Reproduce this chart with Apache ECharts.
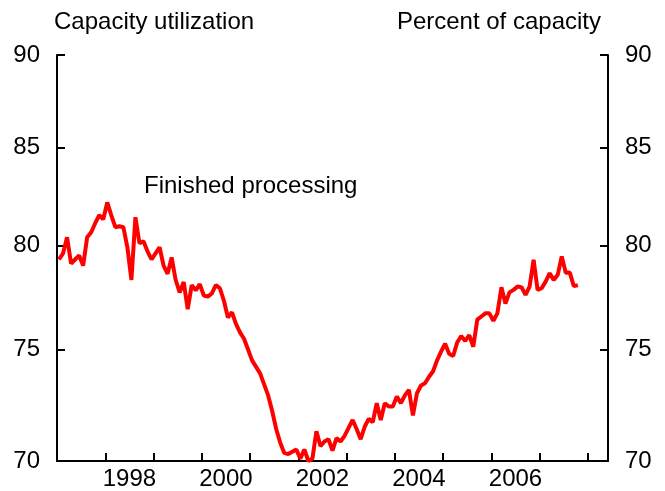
<!DOCTYPE html>
<html>
<head>
<meta charset="utf-8">
<script src="https://cdn.jsdelivr.net/npm/echarts@6/dist/echarts.min.js"></script>
<style>
html,body{margin:0;padding:0;background:#fff;}
#chart{width:665px;height:491px;}
</style>
</head>
<body>
<div id="chart"></div>
<script>
// Monthly series, starting January 1997
const startYear = 1997;
const values = [
  79.3, 79.6, 80.4, 79.1, 79.3, 79.5, 79.0, 80.4, 80.65, 81.1, 81.5, 81.3,
  82.15, 81.5, 80.9, 80.95, 80.9, 79.9, 78.3, 81.4, 80.1, 80.2, 79.7, 79.3,
  79.6, 79.9, 79.0, 78.6, 79.4, 78.3, 77.7, 78.2, 76.9, 78.05, 77.8, 78.1,
  77.55, 77.5, 77.65, 78.05, 77.9, 77.3, 76.5, 76.75, 76.2, 75.8, 75.5, 75.0,
  74.5, 74.2, 73.9, 73.4, 72.9, 72.2, 71.4, 70.8, 70.35, 70.3, 70.4, 70.5,
  70.1, 70.5, 70.0, 70.1, 71.3, 70.65, 70.85, 70.95, 70.45, 71.0, 70.85, 71.1,
  71.45, 71.8, 71.4, 70.95, 71.5, 71.85, 71.7, 72.55, 71.8, 72.55, 72.4, 72.4,
  72.85, 72.55, 72.9, 73.15, 72.0, 73.0, 73.35, 73.45, 73.75, 74.0, 74.5, 74.9,
  75.27, 74.8, 74.7, 75.33, 75.63, 75.4, 75.67, 75.13, 76.4, 76.55, 76.7, 76.7,
  76.35, 76.7, 77.95, 77.17, 77.7, 77.82, 77.98, 77.95, 77.58, 77.98, 79.28, 77.82,
  77.9, 78.22, 78.63, 78.3, 78.55, 79.45, 78.65, 78.66, 78.0, 78.05
];
const yTicks = [70, 75, 80, 85, 90];
const xTickYears = [1997, 1998, 1999, 2000, 2001, 2002, 2003, 2004, 2005, 2006, 2007, 2008];
const xLabelYears = [1998, 2000, 2002, 2004, 2006];
const titleLeft = 'Capacity utilization';
const titleRight = 'Percent of capacity';
const seriesLabel = 'Finished processing';

const seriesData = values.map((v, i) => [startYear + (i + 0.5) / 12, v]);
const labelPositions = xLabelYears.map(y => y + 0.5);

const FONT = 'Liberation Sans, Arial, sans-serif';
const FS = 24;
const yAxisBase = {
  type: 'log',
  logBase: 10,
  min: 70,
  max: 90,
  axisLine: {show: true, lineStyle: {color: '#000', width: 2}},
  axisTick: {show: true, inside: true, length: 8, lineStyle: {color: '#000', width: 2}, customValues: yTicks},
  axisLabel: {show: true, color: '#000', fontSize: FS, fontFamily: FONT, margin: 17, customValues: yTicks,
    formatter: v => String(Math.round(v))},
  splitLine: {show: false}
};

const chart = echarts.init(document.getElementById('chart'), null, {renderer: 'canvas'});
chart.setOption({
  animation: false,
  backgroundColor: '#fff',
  grid: {left: 57, right: 57, top: 55, bottom: 30, containLabel: false},
  title: [
    {text: titleLeft, left: 49, top: 5, textStyle: {fontSize: FS, fontWeight: 'normal', color: '#000', fontFamily: FONT}},
    {text: titleRight, right: 59, top: 5, textStyle: {fontSize: FS, fontWeight: 'normal', color: '#000', fontFamily: FONT}},
    {text: seriesLabel, left: 139, top: 169, textStyle: {fontSize: FS, fontWeight: 'normal', color: '#000', fontFamily: FONT}}
  ],
  xAxis: {
    type: 'value',
    min: 1997,
    max: 2008 + 5 / 12,
    interval: 1,
    axisLine: {show: true, onZero: false, lineStyle: {color: '#000', width: 2}},
    axisTick: {show: true, inside: true, length: 8, lineStyle: {color: '#000', width: 2}, customValues: xTickYears},
    axisLabel: {show: true, color: '#000', fontSize: FS, fontFamily: FONT, margin: 6, customValues: labelPositions,
      formatter: v => String(Math.floor(v))},
    splitLine: {show: false}
  },
  yAxis: [
    Object.assign({}, yAxisBase, {position: 'left'}),
    Object.assign({}, yAxisBase, {position: 'right'})
  ],
  series: [{
    type: 'line',
    data: seriesData,
    yAxisIndex: 0,
    showSymbol: false,
    symbol: 'none',
    lineStyle: {color: '#ff0000', width: 4},
    z: 3
  }]
});
</script>
</body>
</html>
